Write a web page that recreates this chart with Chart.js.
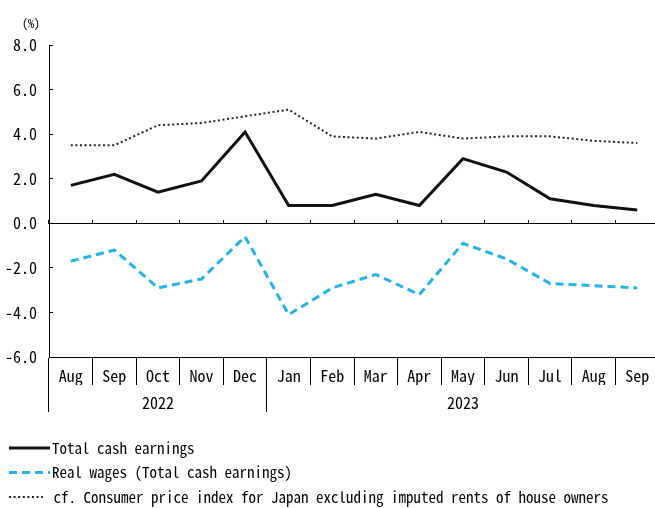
<!DOCTYPE html>
<html>
<head>
<meta charset="utf-8">
<script src="https://cdn.jsdelivr.net/npm/chart.js@4"></script>
<style>
  html, body { margin: 0; padding: 0; background: #fff; overflow: hidden; }
</style>
</head>
<body>
<canvas id="c" width="660" height="508"></canvas>
<script>
const months = ['Aug', 'Sep', 'Oct', 'Nov', 'Dec', 'Jan', 'Feb', 'Mar', 'Apr', 'May', 'Jun', 'Jul', 'Aug', 'Sep'];
const years = ['', '', '2022', '', '', '', '', '', '', '2023', '', '', '', ''];
const yearStarts = [0, 5];
const totalCash = [1.7, 2.2, 1.4, 1.9, 4.1, 0.8, 0.8, 1.3, 0.8, 2.9, 2.3, 1.1, 0.8, 0.6];
const realWages = [-1.7, -1.2, -2.9, -2.5, -0.6, -4.1, -2.9, -2.3, -3.2, -0.9, -1.6, -2.7, -2.8, -2.9];
const cpi = [3.5, 3.5, 4.4, 4.5, 4.8, 5.1, 3.9, 3.8, 4.1, 3.8, 3.9, 3.9, 3.7, 3.6];

const FONT = '"Noto Sans Mono CJK JP", "DejaVu Sans Mono", monospace';
Chart.defaults.font.family = FONT;
Chart.defaults.color = '#000';

// legend drawn one item per row, plus the "(%)" unit label
const extras = {
    id: 'extras',
    afterDraw(chart) {
        const ctx = chart.ctx;
        const base = chart.scales.x2.bottom;
        ctx.save();
        ctx.fillStyle = '#000';
        ctx.font = '12px ' + FONT;
        ctx.textBaseline = 'middle';
        ctx.fillText('(%)', 22, 23);
        chart.data.datasets.forEach((ds, i) => {
            const y = base + 36 + i * 24.5;
            ctx.save();
            ctx.strokeStyle = ds.borderColor;
            ctx.lineWidth = ds.borderWidth;
            ctx.setLineDash(ds.borderDash || []);
            ctx.beginPath();
            ctx.moveTo(9, y);
            ctx.lineTo(i === 2 ? 43 : 50, y);
            ctx.stroke();
            ctx.restore();
            ctx.font = '15px ' + FONT;
            ctx.fillText(ds.label, i === 2 ? 46 : 52, y);
        });
        ctx.restore();
    }
};

new Chart(document.getElementById('c').getContext('2d'), {
    type: 'line',
    data: {
        labels: months,
        datasets: [
            {
                label: 'Total cash earnings',
                data: totalCash,
                borderColor: '#111',
                borderWidth: 3,
                pointRadius: 0
            },
            {
                label: 'Real wages (Total cash earnings)',
                data: realWages,
                borderColor: '#25b3e6',
                borderWidth: 3,
                borderDash: [8, 5],
                pointRadius: 0
            },
            {
                label: ' cf. Consumer price index for Japan excluding imputed rents of house owners',
                data: cpi,
                borderColor: '#222',
                borderWidth: 2,
                borderDash: [2, 2.6],
                pointRadius: 0
            }
        ]
    },
    options: {
        responsive: false,
        animation: false,
        layout: { padding: { top: 45, right: 1, bottom: 96, left: 0 } },
        plugins: { legend: { display: false }, tooltip: { enabled: false } },
        scales: {
            y: {
                min: -6,
                max: 8,
                afterFit: s => { s.width = 49; },
                ticks: { stepSize: 2, padding: 16, font: { size: 16 }, callback: v => v.toFixed(1) },
                grid: { drawOnChartArea: false, tickLength: -4, tickColor: '#000' },
                border: { display: true, color: '#000' }
            },
            x: {
                position: 'bottom',
                offset: true,
                afterFit: s => { s.height = 28; },
                ticks: { padding: -19, font: { size: 16 }, maxRotation: 0, autoSkip: false },
                grid: { offset: true, drawOnChartArea: false, tickLength: 28, color: '#000' },
                border: { display: true, color: '#000' }
            },
            x2: {
                type: 'category',
                axis: 'x',
                position: 'bottom',
                labels: years,
                offset: true,
                afterFit: s => { s.height = 27; },
                ticks: { padding: -19, font: { size: 16 }, maxRotation: 0, autoSkip: false },
                grid: {
                    offset: true,
                    drawOnChartArea: false,
                    tickLength: 27,
                    color: c => yearStarts.includes(c.index) ? '#000' : 'rgba(0,0,0,0)'
                },
                border: { display: false }
            },
            xz: {
                type: 'category',
                axis: 'x',
                position: { y: 0 },
                labels: months,
                offset: true,
                ticks: { display: false },
                grid: { offset: true, drawOnChartArea: false, tickLength: -4, color: '#000' },
                border: { display: true, color: '#000' }
            }
        }
    },
    plugins: [extras]
});
</script>
</body>
</html>
